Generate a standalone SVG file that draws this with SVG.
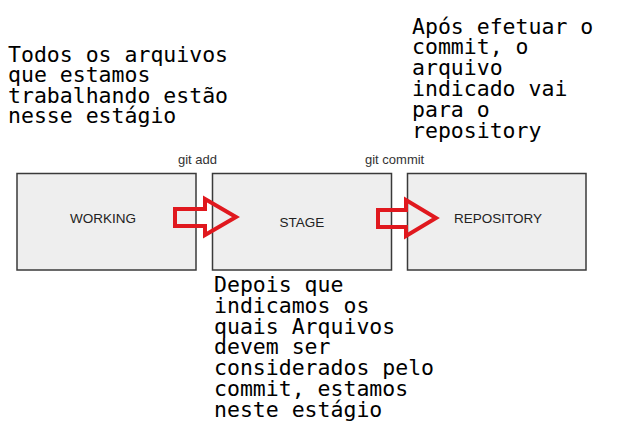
<svg xmlns="http://www.w3.org/2000/svg" width="618" height="440" viewBox="0 0 618 440">
<style>
.box{fill:#eeeeee;stroke:#3a3a3a;stroke-width:1.5}
.lbl{font-family:"Liberation Sans",Arial,sans-serif;font-size:13.5px;fill:#222;text-anchor:middle}
.cmd{font-family:"Liberation Sans",Arial,sans-serif;font-size:13px;fill:#333}
.note{font-family:"DejaVu Sans Mono",monospace;font-size:21.5px;fill:#000}
.arrow{fill:none;stroke:#e0181e;stroke-width:4;stroke-linejoin:miter}
</style>
<rect width="618" height="440" fill="#ffffff"/>
<g id="working">
<rect class="box" x="17" y="173.5" width="179" height="96.5"/>
<text class="lbl" x="103" y="223">WORKING</text>
</g>
<g id="stage">
<rect class="box" x="212.5" y="173.5" width="179" height="96.5"/>
<text class="lbl" x="302" y="227">STAGE</text>
</g>
<g id="repository">
<rect class="box" x="407.5" y="173.5" width="178.5" height="96.5"/>
<text class="lbl" x="498" y="223">REPOSITORY</text>
</g>
<g id="connectors">
<polygon class="arrow" points="175,209 205,209 205,199 236,217 205,235 205,226 175,226"/>
<polygon class="arrow" points="378,210 406,210 406,200 436,218 406,236 406,227 378,227"/>
<text class="cmd" x="178" y="164">git add</text>
<text class="cmd" x="365" y="164">git commit</text>
</g>
<g id="note-working">
<text class="note" x="8" y="61.5">Todos os arquivos</text>
<text class="note" x="8" y="82">que estamos</text>
<text class="note" x="8" y="102.5">trabalhando estão</text>
<text class="note" x="8" y="123">nesse estágio</text>
</g>
<g id="note-repository">
<text class="note" x="412" y="33.5">Após efetuar o</text>
<text class="note" x="412" y="54.3">commit, o</text>
<text class="note" x="412" y="75.1">arquivo</text>
<text class="note" x="412" y="95.9">indicado vai</text>
<text class="note" x="412" y="116.7">para o</text>
<text class="note" x="412" y="137.5">repository</text>
</g>
<g id="note-stage">
<text class="note" x="214" y="292">Depois que</text>
<text class="note" x="214" y="312.8">indicamos os</text>
<text class="note" x="214" y="333.6">quais Arquivos</text>
<text class="note" x="214" y="354.4">devem ser</text>
<text class="note" x="214" y="375.2">considerados pelo</text>
<text class="note" x="214" y="396">commit, estamos</text>
<text class="note" x="214" y="416.8">neste estágio</text>
</g>
</svg>
